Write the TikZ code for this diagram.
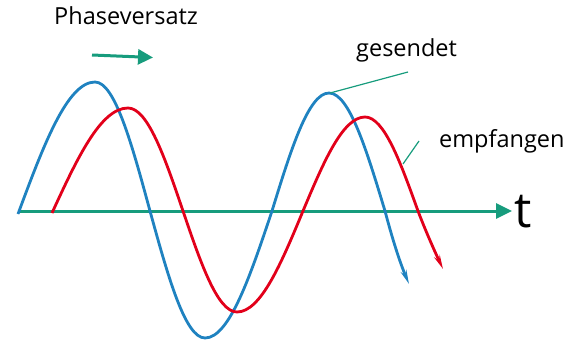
\documentclass[tikz,border=0pt]{standalone}
\usepackage{fontspec}
\setmainfont{Open Sans}
\usetikzlibrary{arrows.meta}
\definecolor{fgreen}{HTML}{179C7D}
\definecolor{fblue}{HTML}{1F82C0}
\definecolor{fred}{HTML}{E2001A}
\begin{document}
\begin{tikzpicture}[x=1pt,y=-1pt,
  wave/.style={line width=2.8pt},
  leader/.style={draw=fgreen,line width=1.2pt},
  lbl/.style={anchor=base west,inner sep=0pt,font=\fontsize{23.5}{28}\selectfont}]
\useasboundingbox (0,0) rectangle (569,342);
% axis
\coordinate (a0) at (18,211);
\coordinate (a1) at (512,211);
\draw[draw=fgreen,line width=3pt,-{Triangle[length=16pt,width=15pt]}] (a0) -- (a1);
\node[anchor=base west,inner sep=0pt,font=\fontsize{49}{54}\selectfont] (t) at (514,227) {t};
% phase arrow
\coordinate (p0) at (92,55);
\coordinate (p1) at (153,57.5);
\draw[draw=fgreen,line width=3pt,-{Triangle[length=15pt,width=15pt]}] (p0) -- (p1);
\node[lbl] (ph) at (54,25) {Phaseversatz};
% blue
\draw[wave,draw=fblue,-{Stealth[length=14pt,width=6pt]}]
  (18,214) .. controls (43.1,146.4) and (67.1,82) .. (95,82)
  .. controls (114.9,82) and (132.1,145) .. (150,211)
  .. controls (167.9,276) and (185.1,338) .. (205,338)
  .. controls (229.3,338) and (250.2,276) .. (272,211)
  .. controls (290.6,150.6) and (308.4,93) .. (329,93)
  .. controls (349.3,93) and (366.7,150.6) .. (385,211)
  .. controls (394,245) and (401,265) .. (409,284);
% red
\draw[wave,draw=fred,-{Stealth[length=14pt,width=6pt]}]
  (52,213) .. controls (76.8,159.2) and (100.5,108) .. (128,108)
  .. controls (147.9,108) and (165.1,158.3) .. (183,211)
  .. controls (200.6,262.7) and (217.5,312) .. (237,312)
  .. controls (260.9,312) and (281.5,262.7) .. (303,211)
  .. controls (323.2,162.9) and (342.6,117) .. (365,117)
  .. controls (384.2,117) and (400.7,162.9) .. (418,211)
  .. controls (426,232) and (435,252) .. (443,269);
% labels
\node[lbl] (ges) at (356,57) {gesendet};
\node[lbl] (emp) at (439,147) {empfangen};
\coordinate (g0) at (408,72);
\coordinate (g1) at (330,93);
\draw[leader] (g0) -- (g1);
\coordinate (e0) at (419,141);
\coordinate (e1) at (403,164);
\draw[leader] (e0) -- (e1);
\end{tikzpicture}
\end{document}
